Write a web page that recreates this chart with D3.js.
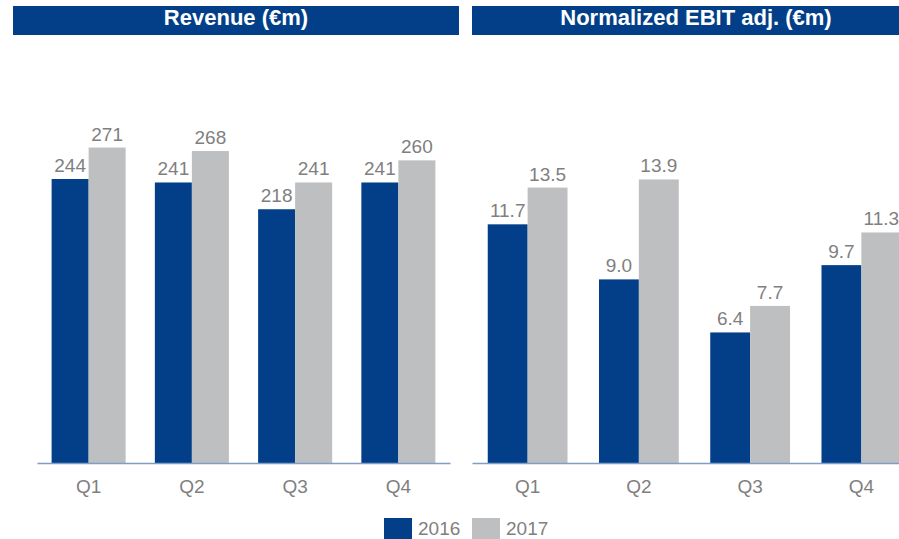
<!DOCTYPE html>
<html>
<head>
<meta charset="utf-8">
<script src="https://cdn.jsdelivr.net/npm/d3@7"></script>
<style>
  html, body { margin: 0; padding: 0; background: #ffffff; }
  svg { display: block; font-family: "Liberation Sans", Arial, sans-serif; }
</style>
</head>
<body>
<svg id="chart" width="899" height="539"></svg>
<script>
// ---- data ----
const quarters = ["Q1", "Q2", "Q3", "Q4"];
const years = ["2016", "2017"];
const revenue2016 = [244, 241, 218, 241];
const revenue2017 = [271, 268, 241, 260];
const ebit2016 = [11.7, 9.0, 6.4, 9.7];
const ebit2017 = [13.5, 13.9, 7.7, 11.3];
const panelTitles = ["Revenue (€m)", "Normalized EBIT adj. (€m)"];

// ---- styles ----
const BLUE = "#033f88";
const GRAY = "#bebfc1";
const TEXT = "#7f7f7f";
const AXIS = "#7f9dc9";
const colors = { "2016": BLUE, "2017": GRAY };

const svg = d3.select("#chart");
const baseY = 463;

const panels = [
  { title: panelTitles[0], s16: revenue2016, s17: revenue2017, fmt: d3.format("d"),
    xRange: [37, 450], yDomain: [0, 300], yTop: 463 - 300 * 1.164,
    header: [13, 459] },
  { title: panelTitles[1], s16: ebit2016, s17: ebit2017, fmt: d3.format(".1f"),
    xRange: [472, 917], yDomain: [0, 15], yTop: 463 - 15 * 20.4,
    header: [472, 920] }
];

panels.forEach(p => {
  const g = svg.append("g");

  // header
  g.append("rect")
    .attr("x", p.header[0]).attr("y", 6)
    .attr("width", p.header[1] - p.header[0]).attr("height", 29)
    .attr("fill", BLUE);
  g.append("text")
    .attr("x", (p.header[0] + p.header[1]) / 2).attr("y", 25)
    .attr("text-anchor", "middle")
    .attr("fill", "#ffffff")
    .attr("font-weight", "bold")
    .attr("font-size", 22)
    .text(p.title);

  const x0 = d3.scaleBand().domain(quarters).range(p.xRange)
    .paddingInner(0.283).paddingOuter(0.1415);
  const x1 = d3.scaleBand().domain(years).range([0, x0.bandwidth()]);
  const y = d3.scaleLinear().domain(p.yDomain).range([baseY, p.yTop]);

  const rows = quarters.map((q, i) => ({
    q, vals: [{ yr: "2016", v: p.s16[i] }, { yr: "2017", v: p.s17[i] }]
  }));

  const groups = g.selectAll("g.grp").data(rows).join("g")
    .attr("class", "grp")
    .attr("transform", d => `translate(${x0(d.q)},0)`);

  groups.selectAll("rect").data(d => d.vals).join("rect")
    .attr("x", d => x1(d.yr))
    .attr("y", d => y(d.v))
    .attr("width", x1.bandwidth())
    .attr("height", d => baseY - y(d.v))
    .attr("fill", d => colors[d.yr]);

  groups.selectAll("text.val").data(d => d.vals).join("text")
    .attr("class", "val")
    .attr("x", d => x1(d.yr) + x1.bandwidth() / 2)
    .attr("y", d => y(d.v) - 7)
    .attr("text-anchor", "middle")
    .attr("font-size", 19)
    .attr("fill", TEXT)
    .text(d => p.fmt(d.v));

  // axis
  const axis = g.append("g")
    .attr("transform", `translate(0,${baseY})`)
    .call(d3.axisBottom(x0).tickSizeInner(0).tickSizeOuter(0).tickPadding(16.5));
  axis.select(".domain").attr("stroke", AXIS).attr("stroke-width", 1.3);
  axis.selectAll(".tick text")
    .attr("font-size", 19)
    .attr("fill", TEXT)
    .attr("font-family", "Liberation Sans, Arial, sans-serif");
});

// legend
const legendItems = [
  { yr: years[0], x: 384, tx: 418 },
  { yr: years[1], x: 472, tx: 506 }
];
const lg = svg.append("g");
lg.selectAll("rect").data(legendItems).join("rect")
  .attr("x", d => d.x).attr("y", 518)
  .attr("width", 28).attr("height", 28)
  .attr("fill", d => colors[d.yr]);
lg.selectAll("text").data(legendItems).join("text")
  .attr("x", d => d.tx).attr("y", 535)
  .attr("font-size", 19)
  .attr("fill", TEXT)
  .text(d => d.yr);
</script>
</body>
</html>
